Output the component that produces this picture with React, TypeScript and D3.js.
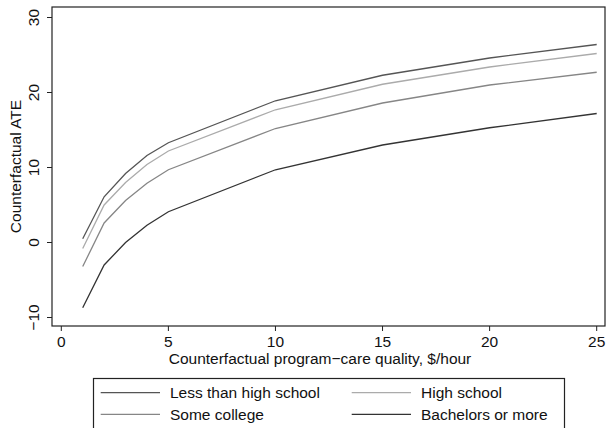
import React from "react";
import * as d3 from "d3";

const quality = [1, 2, 3, 4, 5, 10, 15, 20, 25];
const lessThanHighSchool = [0.5, 6.1, 9.2, 11.6, 13.3, 18.9, 22.3, 24.6, 26.4];
const highSchool = [-0.8, 5.0, 8.0, 10.4, 12.2, 17.7, 21.1, 23.4, 25.2];
const someCollege = [-3.2, 2.6, 5.6, 7.9, 9.7, 15.2, 18.6, 21.0, 22.7];
const bachelorsOrMore = [-8.7, -3.0, 0.0, 2.3, 4.1, 9.7, 13.0, 15.3, 17.2];
const seriesNames = ["Less than high school", "High school", "Some college", "Bachelors or more"];
const xTicks = [0, 5, 10, 15, 20, 25];
const yTicks = [-10, 0, 10, 20, 30];

const colors = ["#555555", "#ababab", "#868686", "#333333"];

export default function App() {
  const W = 606, H = 428;
  const left = 52, right = 605, top = 7, bottom = 326;
  const x = d3.scaleLinear().domain([0, 25]).range([61.3, 596.7]);
  const y = d3.scaleLinear().domain([-10, 30]).range([317.5, 17.5]);
  const all = [lessThanHighSchool, highSchool, someCollege, bachelorsOrMore];
  const line = d3
    .line<number>()
    .x((_, i) => x(quality[i]))
    .y((d) => y(d));
  const font = "Liberation Sans, Arial, Helvetica, sans-serif";
  const fs = 15.5;

  return (
    <svg
      width={W}
      height={H}
      style={{ position: "absolute", left: 0, top: 0, background: "#fff" }}
      fontFamily={font}
    >
      <rect x={0} y={0} width={W} height={H} fill="#fff" />
      {/* plot frame */}
      <rect x={left} y={top} width={right - left} height={bottom - top} fill="none" stroke="#222" strokeWidth={1.2} />
      {/* series */}
      {all.map((s, i) => (
        <path key={i} d={line(s) || ""} fill="none" stroke={colors[i]} strokeWidth={1.3} />
      ))}
      {/* y axis */}
      {yTicks.map((t) => (
        <g key={t}>
          <line x1={left - 5} x2={left} y1={y(t)} y2={y(t)} stroke="#222" strokeWidth={1} />
          <text
            transform={`translate(${39},${y(t)}) rotate(-90)`}
            textAnchor="middle"
            fontSize={fs}
            fill="#111"
          >
            {t < 0 ? `\u2212${Math.abs(t)}` : t}
          </text>
        </g>
      ))}
      <text
        transform={`translate(${21},${(top + bottom) / 2}) rotate(-90)`}
        textAnchor="middle"
        fontSize={fs}
        fill="#111"
      >
        Counterfactual ATE
      </text>
      {/* x axis */}
      {xTicks.map((t) => (
        <g key={t}>
          <line x1={x(t)} x2={x(t)} y1={bottom} y2={bottom + 5} stroke="#222" strokeWidth={1} />
          <text x={x(t)} y={347} textAnchor="middle" fontSize={fs} fill="#111">
            {t}
          </text>
        </g>
      ))}
      <text x={320} y={364} textAnchor="middle" fontSize={fs} fill="#111">
        Counterfactual program{"\u2212"}care quality, $/hour
      </text>
      {/* legend */}
      <rect x={93.5} y={378.5} width={471} height={60} fill="#fff" stroke="#222" strokeWidth={1.2} />
      {seriesNames.map((name, i) => {
        const col = i % 2;
        const row = Math.floor(i / 2);
        const lx = col === 0 ? 100.7 : 351.7;
        const ly = row === 0 ? 392.7 : 414.3;
        return (
          <g key={name}>
            <line x1={lx} x2={lx + 59.3} y1={ly} y2={ly} stroke={colors[i]} strokeWidth={1.3} />
            <text x={lx + 69.3} y={ly + 5.5} fontSize={fs} fill="#111">
              {name}
            </text>
          </g>
        );
      })}
    </svg>
  );
}
